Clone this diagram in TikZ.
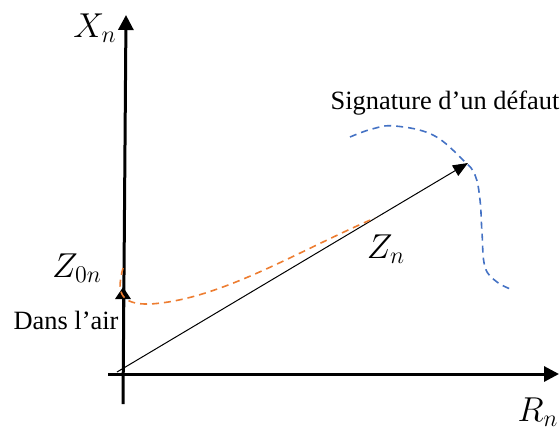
\documentclass[tikz,border=0pt]{standalone}
\usepackage{fontspec}
\setmainfont{Liberation Serif}
\usetikzlibrary{arrows.meta}
\definecolor{offorange}{RGB}{237,125,49}
\definecolor{offblue}{RGB}{68,114,196}
\begin{document}
\begin{tikzpicture}[x=0.5pt,y=-0.5pt,
  axis/.style={line width=1.5pt,-{Triangle[length=7.5pt,width=7.5pt]}},
  vec/.style={line width=0.5pt,-{Triangle[length=7.5pt,width=6pt]}},
  dsh/.style={line width=0.8pt,dash pattern=on 3.5pt off 2.5pt},
  lbl/.style={inner sep=0pt,font=\fontsize{13.2}{15}\selectfont},
  mlbl/.style={inner sep=0pt,font=\fontsize{16.5}{18}\selectfont}]
\useasboundingbox (0,0) rectangle (560,428);
% coordinates
\coordinate (ybot) at (123,404);
\coordinate (ytop) at (126,15);
\coordinate (xl) at (108,374);
\coordinate (xr) at (559,374);
\coordinate (zo) at (123,340);
\coordinate (zot) at (123,287);
\coordinate (o) at (117,372);
\coordinate (zn) at (468,163);
% axes
\draw[axis] (ybot) -- (ytop);
\draw[axis] (xl) -- (xr);
\draw[axis,-{Triangle[length=6pt,width=7.5pt]}] (zo) -- (zot);
% vector Zn
\draw[vec] (o) -- (zn);
% orange dashed
\draw[dsh,offorange] (123,268) .. controls (117,290) and (118,305) .. (150,304)
  .. controls (220,300) and (300,250) .. (375,218);
% blue dashed
\draw[dsh,offblue] plot[smooth,tension=0.65] coordinates {(350,137) (372,129) (395,126) (433,135) (463,160) (475,175) (480,200) (482,233) (485,267) (497,282) (513,290)};
% labels
\node[mlbl] (lx) at (95,28) {$X_n$};
\node[mlbl] (lz0) at (77,268) {$Z_{0n}$};
\node[lbl] (lair) at (66,320) {Dans l’air};
\node[lbl] (lsig) at (445,103) {Signature d’un défaut};
\node[mlbl] (lzn) at (386,249) {$Z_n$};
\node[mlbl] (lr) at (538,412) {$R_n$};
\end{tikzpicture}
\end{document}
